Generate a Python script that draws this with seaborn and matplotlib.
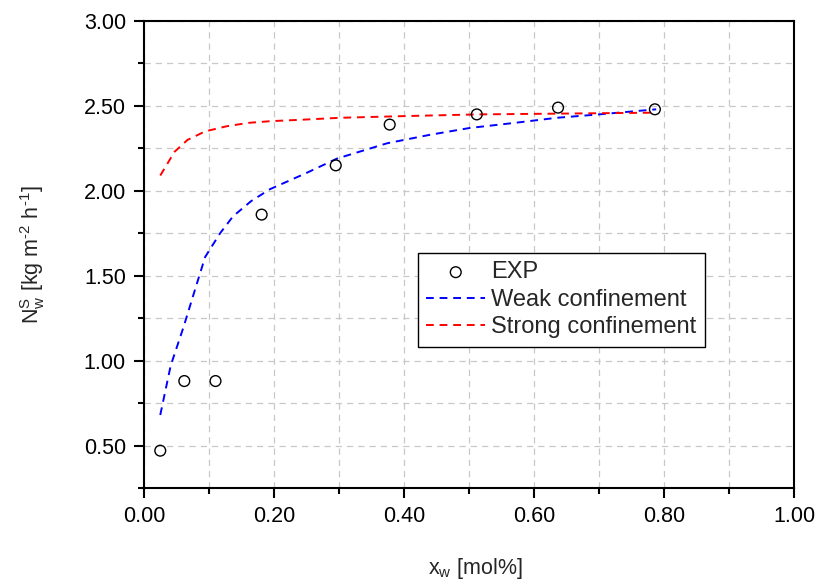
import numpy as np
import pandas as pd
import matplotlib
matplotlib.use("Agg")
import matplotlib.pyplot as plt
import seaborn as sns
from matplotlib.ticker import MultipleLocator, FormatStrFormatter

# Experimental data
exp_x = [0.025, 0.062, 0.110, 0.181, 0.295, 0.378, 0.512, 0.637, 0.786]
exp_y = [0.47, 0.88, 0.88, 1.86, 2.15, 2.39, 2.45, 2.49, 2.48]

# Weak confinement model curve
weak_x = [0.025, 0.041, 0.061, 0.077, 0.094, 0.117, 0.137, 0.165, 0.194, 0.247, 0.297, 0.374, 0.440, 0.501, 0.570, 0.635, 0.700, 0.788]
weak_y = [0.68, 0.97, 1.20, 1.40, 1.61, 1.75, 1.85, 1.94, 2.01, 2.10, 2.19, 2.28, 2.33, 2.37, 2.40, 2.43, 2.45, 2.48]

# Strong confinement model curve
strong_x = [0.025, 0.047, 0.067, 0.094, 0.127, 0.160, 0.194, 0.250, 0.301, 0.400, 0.514, 0.650, 0.781]
strong_y = [2.09, 2.23, 2.30, 2.35, 2.38, 2.40, 2.41, 2.42, 2.43, 2.44, 2.45, 2.455, 2.46]

sns.set_theme(style="ticks")
plt.rcParams['font.family'] = ['Liberation Sans', 'DejaVu Sans']
plt.rcParams['mathtext.fontset'] = 'custom'
plt.rcParams['mathtext.rm'] = 'Liberation Sans'
plt.rcParams['mathtext.it'] = 'Liberation Sans'

fig = plt.figure(figsize=(8.21, 5.88), dpi=100)
ax = fig.add_axes([0.1754, 0.17, 0.7917, 0.7943])

weak_df = pd.DataFrame({"x": weak_x, "y": weak_y})
strong_df = pd.DataFrame({"x": strong_x, "y": strong_y})
exp_df = pd.DataFrame({"x": exp_x, "y": exp_y})

sns.scatterplot(data=exp_df, x="x", y="y", ax=ax, marker="o", s=60,
                facecolor="none", edgecolor="black", linewidth=1.0,
                label="EXP", zorder=4)
sns.lineplot(data=weak_df, x="x", y="y", ax=ax, color="#0000ff",
             linewidth=1.4, dashes=False, label="Weak confinement", zorder=3,
             sort=False)
sns.lineplot(data=strong_df, x="x", y="y", ax=ax, color="#ff0000",
             linewidth=1.4, dashes=False, label="Strong confinement", zorder=3,
             sort=False)
for ln in ax.lines:
    ln.set_linestyle((0, (4, 3)))

ax.set_xlim(0, 1.0)
ax.set_ylim(0.25, 3.0)
ax.xaxis.set_major_locator(MultipleLocator(0.2))
ax.xaxis.set_minor_locator(MultipleLocator(0.1))
ax.yaxis.set_major_locator(MultipleLocator(0.5))
ax.yaxis.set_minor_locator(MultipleLocator(0.25))
ax.xaxis.set_major_formatter(FormatStrFormatter('%.2f'))
ax.yaxis.set_major_formatter(FormatStrFormatter('%.2f'))

ax.grid(True, which='both', color='#c8c8c8', linestyle=(0, (5, 4)), linewidth=0.9)
ax.set_axisbelow(True)

for s in ax.spines.values():
    s.set_color('black')
    s.set_linewidth(1.5)

ax.tick_params(axis='both', which='major', direction='out', length=7, width=1.5,
               labelsize=15.5, color='black', labelcolor='black', pad=6)
ax.tick_params(axis='both', which='minor', direction='out', length=4, width=1.5,
               color='black')

ax.set_xlabel(r'x$_\mathregular{w}$ [mol%]', fontsize=15.5)
ax.set_ylabel('N$^\\mathregular{S}_\\mathregular{w}$ [kg m$^\\mathregular{\u2010 2}$ h$^\\mathregular{\u2010 1}$]',
              fontsize=15.5)
ax.xaxis.set_label_coords(0.51, -0.145)
ax.yaxis.set_label_coords(-0.15, 0.5)

handles, labels = ax.get_legend_handles_labels()
leg = ax.legend(handles, labels, loc='upper left', bbox_to_anchor=(0.4215, 0.503),
                frameon=True, fancybox=False, edgecolor='black', framealpha=1,
                fontsize=17, handlelength=2.5, borderpad=0.35, labelspacing=0.23,
                handletextpad=0.25, borderaxespad=0)
leg.get_frame().set_linewidth(1.0)

fig.savefig("out.png", dpi=100)
